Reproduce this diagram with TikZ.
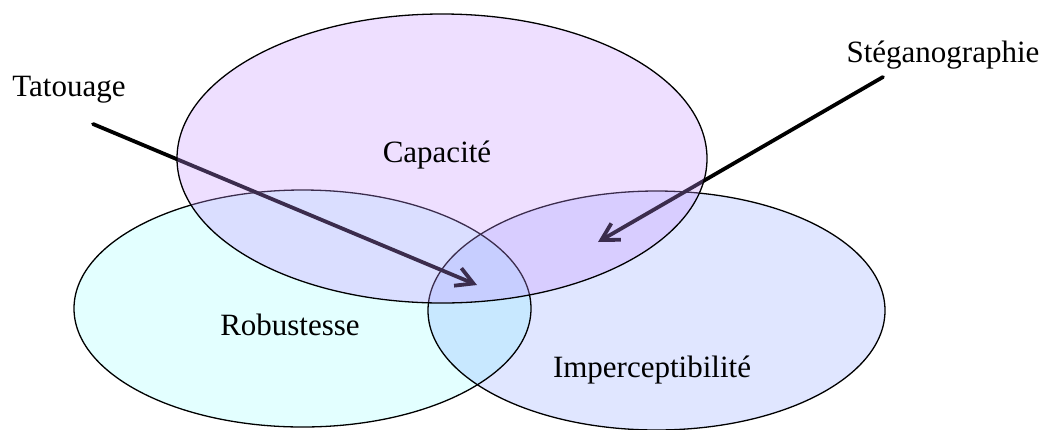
\documentclass[tikz,border=0pt]{standalone}
\usepackage{fontspec}
\setmainfont{Liberation Serif}
\usetikzlibrary{shapes.geometric,arrows.meta}
\definecolor{robfill}{HTML}{E3FFFF}
\definecolor{impfill}{HTML}{E0E6FF}
\definecolor{bothfill}{HTML}{C8E8FF}
\definecolor{capfill}{HTML}{C695FF}
\tikzset{
  set/.style={ellipse, draw=black, line width=1.3pt, inner sep=0pt},
  lbl/.style={font=\fontsize{31}{36}\selectfont, inner sep=0pt},
  pointer/.style={line width=3.8pt, black, line cap=round,
    -{Straight Barb[length=17pt,width=19pt,line width=3.8pt]}}
}
\begin{document}
\begin{tikzpicture}[x=1pt,y=-1pt]
\useasboundingbox (0,0) rectangle (1048,429);
% lower pair of sets
\fill[robfill] (302.5,308.5) ellipse [x radius=228.5, y radius=118.5];
\fill[impfill] (656.5,310.5) ellipse [x radius=228.5, y radius=119.5];
\begin{scope}
  \clip (656.5,310.5) ellipse [x radius=228.5, y radius=119.5];
  \fill[bothfill] (302.5,308.5) ellipse [x radius=228.5, y radius=118.5];
\end{scope}
\node[set, minimum width=457pt, minimum height=237pt] (rob) at (302.5,308.5) {};
\node[set, minimum width=457pt, minimum height=239pt] (imp) at (656.5,310.5) {};
% pointers
\coordinate (tatstart) at (93,124);
\coordinate (tattip) at (477,285);
\coordinate (stegstart) at (883,77);
\coordinate (stegtip) at (598,242);
\draw[pointer] (tatstart) -- (tattip);
\draw[pointer] (stegstart) -- (stegtip);
% upper set, translucent over the rest
\node[set, fill=capfill, fill opacity=0.3, minimum width=530pt, minimum height=289pt] (cap) at (442,158.5) {};
% labels
\node[lbl] (tcap) at (437,155) {Capacité};
\node[lbl] (trob) at (290,325) {Robustesse};
\node[lbl] (timp) at (652,370) {Imperceptibilité};
\node[lbl] (ttat) at (69,90) {Tatouage};
\node[lbl] (tsteg) at (943,55) {Stéganographie};
\end{tikzpicture}
\end{document}
